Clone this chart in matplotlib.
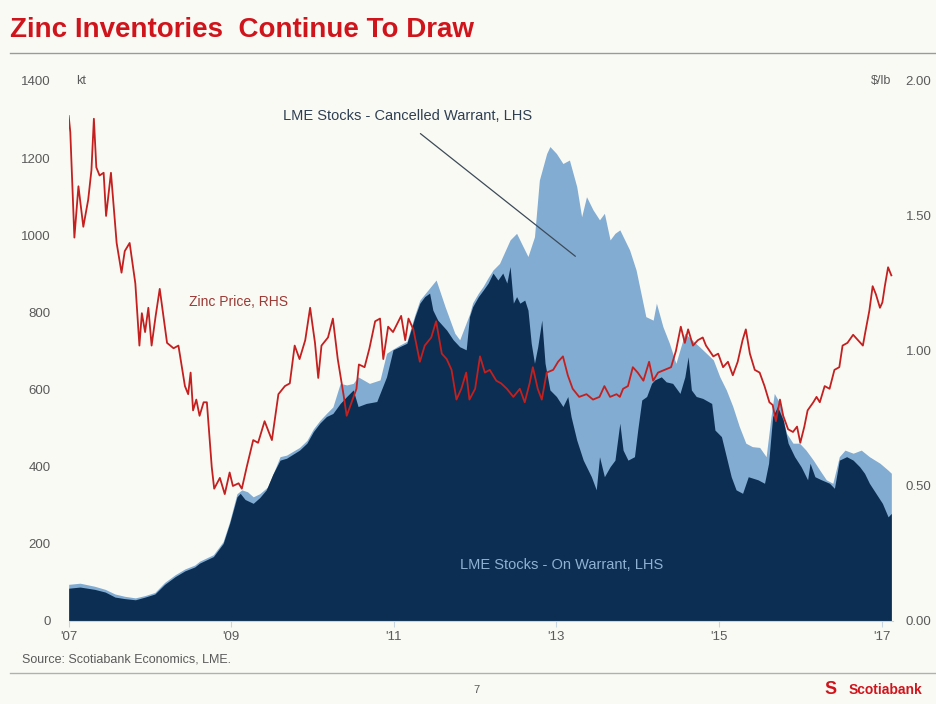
import matplotlib
matplotlib.use('Agg')
import matplotlib.pyplot as plt
from matplotlib.lines import Line2D

plt.rcParams['font.family'] = ['Liberation Sans', 'DejaVu Sans']

# zinc price, $/lb (RHS)
price_year = [2007.00, 2007.02, 2007.04, 2007.07, 2007.12, 2007.18, 2007.24, 2007.28, 2007.31, 2007.34,
	2007.38, 2007.43, 2007.46, 2007.52, 2007.59, 2007.65, 2007.69, 2007.75, 2007.82, 2007.87,
	2007.90, 2007.94, 2007.98, 2008.02, 2008.07, 2008.12, 2008.21, 2008.29, 2008.35, 2008.43,
	2008.47, 2008.50, 2008.53, 2008.57, 2008.61, 2008.66, 2008.70, 2008.76, 2008.79, 2008.86,
	2008.92, 2008.98, 2009.02, 2009.09, 2009.13, 2009.19, 2009.27, 2009.33, 2009.41, 2009.50,
	2009.58, 2009.66, 2009.72, 2009.78, 2009.84, 2009.91, 2009.97, 2010.03, 2010.07, 2010.11,
	2010.19, 2010.25, 2010.31, 2010.38, 2010.42, 2010.48, 2010.54, 2010.57, 2010.64, 2010.70,
	2010.77, 2010.83, 2010.87, 2010.93, 2010.99, 2011.09, 2011.14, 2011.18, 2011.24, 2011.28,
	2011.32, 2011.38, 2011.46, 2011.52, 2011.59, 2011.65, 2011.71, 2011.77, 2011.83, 2011.89,
	2011.93, 2012.00, 2012.06, 2012.12, 2012.18, 2012.26, 2012.32, 2012.39, 2012.47, 2012.55,
	2012.61, 2012.67, 2012.71, 2012.77, 2012.82, 2012.88, 2012.96, 2013.02, 2013.08, 2013.14,
	2013.20, 2013.28, 2013.37, 2013.45, 2013.53, 2013.59, 2013.66, 2013.74, 2013.78, 2013.82,
	2013.88, 2013.94, 2014.00, 2014.07, 2014.14, 2014.19, 2014.25, 2014.33, 2014.41, 2014.47,
	2014.53, 2014.58, 2014.62, 2014.68, 2014.74, 2014.80, 2014.84, 2014.93, 2014.99, 2015.05,
	2015.11, 2015.17, 2015.23, 2015.29, 2015.33, 2015.38, 2015.44, 2015.50, 2015.56, 2015.62,
	2015.66, 2015.70, 2015.75, 2015.79, 2015.85, 2015.91, 2015.96, 2016.00, 2016.05, 2016.09,
	2016.16, 2016.20, 2016.24, 2016.30, 2016.36, 2016.42, 2016.48, 2016.52, 2016.58, 2016.65,
	2016.71, 2016.77, 2016.80, 2016.85, 2016.89, 2016.93, 2016.98, 2017.01, 2017.04, 2017.08,
	2017.12]
price_usd_lb = [1.87, 1.81, 1.65, 1.42, 1.61, 1.46, 1.56, 1.67, 1.86, 1.68,
	1.65, 1.66, 1.50, 1.66, 1.40, 1.29, 1.37, 1.40, 1.25, 1.02,
	1.14, 1.07, 1.16, 1.02, 1.13, 1.23, 1.03, 1.01, 1.02, 0.87,
	0.84, 0.92, 0.78, 0.82, 0.76, 0.81, 0.81, 0.57, 0.49, 0.53,
	0.47, 0.55, 0.50, 0.51, 0.49, 0.57, 0.67, 0.66, 0.74, 0.67,
	0.84, 0.87, 0.88, 1.02, 0.97, 1.04, 1.16, 1.03, 0.90, 1.02,
	1.05, 1.12, 0.97, 0.84, 0.76, 0.81, 0.86, 0.95, 0.94, 1.01,
	1.11, 1.12, 0.97, 1.09, 1.07, 1.13, 1.04, 1.12, 1.08, 1.02,
	0.96, 1.02, 1.05, 1.11, 0.99, 0.97, 0.93, 0.82, 0.86, 0.92,
	0.82, 0.86, 0.98, 0.92, 0.93, 0.89, 0.88, 0.86, 0.83, 0.86,
	0.81, 0.88, 0.94, 0.86, 0.82, 0.92, 0.93, 0.96, 0.98, 0.91,
	0.86, 0.83, 0.84, 0.82, 0.83, 0.87, 0.83, 0.84, 0.83, 0.86,
	0.87, 0.94, 0.92, 0.89, 0.96, 0.89, 0.92, 0.93, 0.94, 1.00,
	1.09, 1.03, 1.08, 1.02, 1.04, 1.05, 1.02, 0.98, 0.99, 0.94,
	0.96, 0.91, 0.96, 1.04, 1.08, 0.99, 0.93, 0.92, 0.87, 0.81,
	0.80, 0.74, 0.82, 0.76, 0.71, 0.70, 0.72, 0.66, 0.72, 0.78,
	0.81, 0.83, 0.81, 0.87, 0.86, 0.93, 0.94, 1.02, 1.03, 1.06,
	1.04, 1.02, 1.07, 1.15, 1.24, 1.21, 1.16, 1.18, 1.24, 1.31,
	1.28]

# LME stocks total (on warrant + cancelled warrant), kt (LHS)
total_year = [2007.00, 2007.14, 2007.32, 2007.45, 2007.57, 2007.69, 2007.82, 2007.94, 2008.06, 2008.18,
	2008.31, 2008.43, 2008.55, 2008.61, 2008.78, 2008.90, 2008.98, 2009.07, 2009.13, 2009.20,
	2009.27, 2009.35, 2009.45, 2009.60, 2009.68, 2009.84, 2009.93, 2010.01, 2010.09, 2010.17,
	2010.25, 2010.34, 2010.42, 2010.50, 2010.56, 2010.70, 2010.83, 2010.91, 2010.99, 2011.07,
	2011.16, 2011.26, 2011.32, 2011.42, 2011.52, 2011.63, 2011.75, 2011.81, 2011.93, 2011.97,
	2012.04, 2012.10, 2012.16, 2012.22, 2012.30, 2012.43, 2012.51, 2012.57, 2012.65, 2012.73,
	2012.79, 2012.88, 2012.92, 2013.00, 2013.08, 2013.16, 2013.25, 2013.31, 2013.37, 2013.45,
	2013.53, 2013.59, 2013.66, 2013.72, 2013.78, 2013.90, 2013.98, 2014.10, 2014.19, 2014.23,
	2014.31, 2014.39, 2014.47, 2014.58, 2014.66, 2014.76, 2014.93, 2015.01, 2015.09, 2015.17,
	2015.25, 2015.33, 2015.41, 2015.50, 2015.58, 2015.64, 2015.68, 2015.75, 2015.83, 2015.91,
	2015.99, 2016.07, 2016.16, 2016.24, 2016.32, 2016.40, 2016.48, 2016.55, 2016.65, 2016.75,
	2016.85, 2016.98, 2017.08, 2017.12]
total_kt = [95, 98, 90, 82, 70, 64, 60, 66, 74, 100,
	120, 135, 145, 155, 172, 206, 258, 330, 340, 335,
	322, 330, 348, 426, 430, 450, 468, 498, 520, 538,
	555, 616, 612, 616, 633, 616, 625, 694, 705, 715,
	725, 795, 832, 858, 884, 815, 746, 729, 795, 825,
	850, 868, 890, 910, 927, 988, 1005, 979, 945, 996,
	1143, 1212, 1230, 1212, 1186, 1195, 1126, 1048, 1100, 1066,
	1040, 1057, 988, 1005, 1014, 962, 910, 789, 780, 824,
	763, 720, 668, 746, 730, 711, 677, 633, 599, 556,
	504, 461, 452, 450, 426, 530, 590, 564, 487, 461,
	461, 443, 417, 391, 366, 357, 426, 443, 435, 443,
	426, 409, 391, 383]

# LME stocks on warrant, kt (LHS)
warrant_year = [2007.00, 2007.14, 2007.32, 2007.45, 2007.57, 2007.69, 2007.82, 2007.94, 2008.06, 2008.18,
	2008.31, 2008.43, 2008.55, 2008.61, 2008.78, 2008.90, 2008.98, 2009.07, 2009.11, 2009.17,
	2009.27, 2009.35, 2009.43, 2009.51, 2009.60, 2009.68, 2009.84, 2009.93, 2010.01, 2010.09,
	2010.17, 2010.25, 2010.34, 2010.42, 2010.50, 2010.56, 2010.66, 2010.79, 2010.91, 2010.99,
	2011.07, 2011.16, 2011.26, 2011.32, 2011.38, 2011.44, 2011.48, 2011.54, 2011.65, 2011.73,
	2011.81, 2011.89, 2011.93, 2011.97, 2012.04, 2012.10, 2012.16, 2012.22, 2012.28, 2012.34,
	2012.39, 2012.43, 2012.47, 2012.51, 2012.55, 2012.61, 2012.65, 2012.69, 2012.73, 2012.77,
	2012.82, 2012.86, 2012.92, 2013.00, 2013.08, 2013.14, 2013.18, 2013.25, 2013.33, 2013.43,
	2013.49, 2013.53, 2013.59, 2013.66, 2013.72, 2013.78, 2013.82, 2013.88, 2013.96, 2014.00,
	2014.05, 2014.11, 2014.17, 2014.21, 2014.29, 2014.35, 2014.43, 2014.52, 2014.58, 2014.62,
	2014.66, 2014.72, 2014.80, 2014.91, 2014.95, 2015.03, 2015.09, 2015.15, 2015.21, 2015.29,
	2015.36, 2015.48, 2015.56, 2015.61, 2015.66, 2015.72, 2015.79, 2015.85, 2015.93, 2016.01,
	2016.09, 2016.12, 2016.18, 2016.26, 2016.36, 2016.42, 2016.48, 2016.57, 2016.65, 2016.73,
	2016.79, 2016.85, 2016.93, 2017.01, 2017.08, 2017.12]
warrant_kt = [85, 88, 82, 75, 62, 58, 55, 62, 70, 95,
	115, 130, 140, 150, 167, 201, 253, 322, 331, 315,
	305, 320, 340, 380, 417, 422, 443, 461, 491, 513,
	530, 538, 564, 582, 599, 556, 564, 569, 633, 703,
	711, 720, 789, 824, 841, 850, 806, 780, 754, 729,
	711, 703, 789, 815, 841, 858, 876, 902, 884, 902,
	876, 919, 824, 841, 824, 832, 806, 720, 668, 711,
	780, 668, 599, 582, 556, 582, 530, 469, 417, 374,
	340, 426, 374, 400, 417, 513, 443, 417, 426, 495,
	573, 582, 616, 625, 633, 620, 616, 590, 633, 685,
	599, 582, 577, 564, 495, 478, 426, 374, 340, 331,
	374, 366, 357, 409, 530, 556, 521, 461, 426, 400,
	366, 409, 374, 366, 357, 344, 417, 426, 417, 400,
	383, 357, 331, 305, 270, 279]

tick_years = [2007, 2009, 2011, 2013, 2015, 2017]
tick_labels = ["'07", "'09", "'11", "'13", "'15", "'17"]
kt_ticks = [0, 200, 400, 600, 800, 1000, 1200, 1400]
usd_ticks = [0.0, 0.5, 1.0, 1.5, 2.0]

bg = '#fafaf5'
navy = '#0b2e52'
lightblue = '#82acd2'
red = '#c3201f'
grey = '#5a5a5a'

fig = plt.figure(figsize=(9.37, 7.04), dpi=100, facecolor=bg)
ax = fig.add_axes([0.0733, 0.1179, 0.953 - 0.0733, 0.885 - 0.1179])
ax.set_facecolor(bg)

ax.fill_between(total_year, 0, total_kt, color=lightblue, lw=0)
ax.fill_between(warrant_year, 0, warrant_kt, color=navy, lw=0)

ax.set_xlim(2007.0, 2017.14)
ax.set_ylim(0, 1400)
ax.set_xticks(tick_years)
ax.set_xticklabels(tick_labels)
ax.set_yticks(kt_ticks)
ax.set_yticklabels([str(v) for v in kt_ticks])
for s in ['top', 'left', 'right']:
	ax.spines[s].set_visible(False)
ax.spines['bottom'].set_color('#c8d4de')
ax.tick_params(axis='x', length=4, color='#c8d4de', labelsize=9.5, labelcolor=grey, pad=3)
ax.tick_params(axis='y', length=0, labelsize=9.5, labelcolor=grey, pad=13)

ax2 = ax.twinx()
ax2.plot(price_year, price_usd_lb, '-', color=red, lw=1.3)
ax2.set_ylim(0, 2.0)
ax2.set_yticks(usd_ticks)
ax2.set_yticklabels(['{:.2f}'.format(v) for v in usd_ticks])
for s in ['top', 'left', 'right', 'bottom']:
	ax2.spines[s].set_visible(False)
ax2.tick_params(axis='y', length=0, labelsize=9.5, labelcolor=grey, pad=9)

# labels inside the chart
ax.text(2011.17, 1309, 'LME Stocks - Cancelled Warrant, LHS', ha='center', va='center',
	fontsize=10.5, color='#2e3f52')
ax.annotate('', xy=(2013.26, 941), xytext=(2011.30, 1268),
	arrowprops=dict(arrowstyle='-', color='#3c4a58', lw=0.9))
ax.text(2009.09, 827, 'Zinc Price, RHS', ha='center', va='center', fontsize=10, color='#9c3a36')
ax.text(2013.07, 145, 'LME Stocks - On Warrant, LHS', ha='center', va='center',
	fontsize=10.5, color='#8fb2d2')

fig.text(0.081, 0.885, 'kt', ha='left', va='center', fontsize=9, color=grey)
fig.text(0.951, 0.885, '$/lb', ha='right', va='center', fontsize=9, color=grey)

# slide furniture
fig.text(0.0107, 0.957, 'Zinc Inventories  Continue To Draw', ha='left', va='center',
	fontsize=20, fontweight='bold', color='#d0141c')
fig.add_artist(Line2D([0.0107, 1.0], [0.9247, 0.9247], transform=fig.transFigure, color='#9a9a9a', lw=1))
fig.text(0.0235, 0.0625, 'Source: Scotiabank Economics, LME.', ha='left', va='center', fontsize=9, color=grey)
fig.add_artist(Line2D([0.0107, 1.0], [0.044, 0.044], transform=fig.transFigure, color='#b0b0b0', lw=1))
fig.text(0.508, 0.0199, '7', ha='center', va='center', fontsize=8, color=grey)
fig.text(0.886, 0.02, 'S', ha='center', va='center', fontsize=13, fontweight='bold', color='#d0141c')
fig.text(0.906, 0.02, 'Scotiabank', ha='left', va='center', fontsize=10, fontweight='bold', color='#d0141c')

fig.savefig('out.png', dpi=100, facecolor=bg)
